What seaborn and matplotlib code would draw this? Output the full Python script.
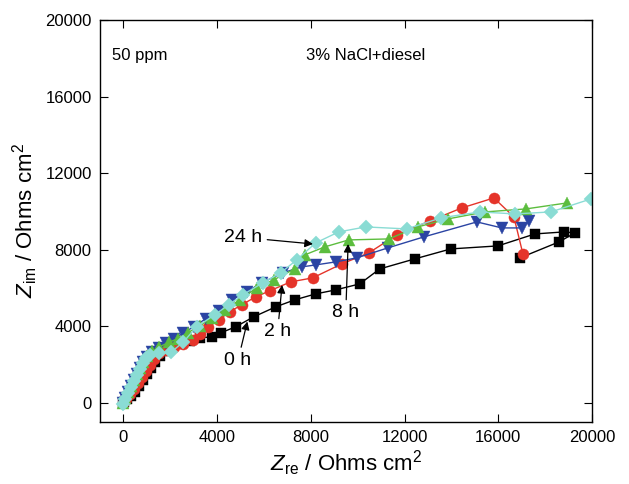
import matplotlib
matplotlib.use("Agg")
import matplotlib.pyplot as plt
import seaborn as sns
import pandas as pd

# 0 h
x0 = [0, 43, 171, 342, 513, 684, 855, 1026, 1197, 1368, 1581, 1795, 2051, 2393, 2821, 3248,
      3761, 4145, 4786, 5556, 6496, 7308, 8205, 9060, 10085, 10940, 12436, 13974, 15983,
      17564, 18803, 19273, 18590, 16923]
y0 = [0, 52, 209, 366, 574, 888, 1201, 1514, 1828, 2141, 2454, 2715, 2924, 3081, 3238, 3394,
      3447, 3655, 3969, 4491, 5013, 5379, 5692, 5901, 6214, 6997, 7520, 8042, 8199,
      8825, 8930, 8877, 8407, 7572]
# 2 h
x2 = [0, 128, 299, 470, 641, 812, 983, 1154, 1325, 1538, 1838, 2179, 2564, 2949, 3248, 3590,
      4060, 4530, 5043, 5641, 6239, 7137, 8077, 9316, 10470, 11667, 13077, 14444, 15812,
      16667, 17051]
y2 = [0, 209, 470, 731, 1044, 1358, 1671, 1984, 2298, 2611, 2768, 2924, 3081, 3290, 3603, 3969,
      4334, 4752, 5118, 5535, 5849, 6319, 6528, 7259, 7833, 8773, 9504, 10183, 10705,
      9713, 7781]
# blue (unlabelled)
xb = [0, 85, 214, 342, 470, 598, 726, 855, 1026, 1239, 1538, 1838, 2179, 2564, 2991, 3504,
      4060, 4615, 5256, 5897, 6795, 7607, 8205, 9060, 9957, 11282, 12821, 15085, 16154,
      17009, 17308]
yb = [0, 261, 574, 888, 1201, 1514, 1828, 2141, 2402, 2663, 2872, 3133, 3342, 3655, 3969, 4386,
      4804, 5379, 5797, 6266, 6789, 7102, 7206, 7363, 7572, 8094, 8669, 9452, 9138,
      9138, 9504]
# 8 h
x8 = [0, 85, 214, 342, 470, 598, 726, 855, 1026, 1239, 1538, 1966, 2308, 2735, 3248, 3761,
      4316, 4957, 5684, 6410, 7308, 7735, 8590, 9615, 11325, 12564, 13846, 15427, 17179, 18932]
y8 = [0, 261, 574, 888, 1201, 1514, 1828, 2141, 2454, 2715, 2924, 3185, 3342, 3655, 4021, 4439,
      4856, 5379, 6005, 6423, 6997, 7728, 8146, 8512, 8564, 9191, 9608, 9974, 10131, 10444]
# 24 h
x24 = [0, 85, 214, 342, 470, 598, 726, 855, 983, 1154, 1538, 2051, 2564, 3120, 3889, 4487,
       5085, 5940, 6709, 7393, 8205, 9188, 10342, 12094, 13547, 15214, 16709, 18248, 19957]
y24 = [-50, 209, 522, 836, 1149, 1462, 1776, 2089, 2350, 2507, 2611, 2663, 3185, 3969, 4595, 5118,
       5640, 6266, 6789, 7468, 8355, 8930, 9191, 9086, 9661, 9974, 9870, 9974, 10653]

ticks = [0, 4000, 8000, 12000, 16000, 20000]
tick_labels = ["0", "4000", "8000", "12000", "16000", "20000"]

series = [
    ("0 h", x0, y0, "s", "#000000", 7),
    ("2 h", x2, y2, "o", "#e5342a", 8),
    ("blue", xb, yb, "v", "#2b44a3", 8.5),
    ("8 h", x8, y8, "^", "#5cbd3e", 8.5),
    ("24 h", x24, y24, "D", "#8adcd4", 7.2),
]

sns.set_style("ticks")
plt.rcParams['font.family'] = ['Liberation Sans', 'DejaVu Sans']
plt.rcParams['mathtext.fontset'] = 'custom'
plt.rcParams['mathtext.rm'] = 'Liberation Sans'
plt.rcParams['mathtext.it'] = 'Liberation Sans:italic'
plt.rcParams['xtick.direction'] = 'in'
plt.rcParams['ytick.direction'] = 'in'
plt.rcParams['text.color'] = 'black'
plt.rcParams['axes.labelcolor'] = 'black'
plt.rcParams['xtick.color'] = 'black'
plt.rcParams['ytick.color'] = 'black'
plt.rcParams['axes.edgecolor'] = 'black'

fig = plt.figure(figsize=(6.29, 4.84), dpi=100)
ax = fig.add_axes([100/629, 1-422/484, 492/629, 402/484])

for name, xs, ys, mk, col, ms in series:
    df = pd.DataFrame({"x": xs, "y": ys})
    sns.lineplot(data=df, x="x", y="y", sort=False, estimator=None, ax=ax,
                 color=col, marker=mk, markersize=ms, markeredgewidth=0.3,
                 markeredgecolor=col, linewidth=1.0)

ax.set_xlim(-1000, 20000)
ax.set_ylim(-1000, 20000)
ax.set_xticks(ticks)
ax.set_xticklabels(tick_labels)
ax.set_yticks(ticks)
ax.set_yticklabels(tick_labels)
ax.tick_params(direction="in", top=True, right=True, labelsize=12, length=6, width=0.8,
               pad=6, colors="black")
for s in ax.spines.values():
    s.set_linewidth(1.0)
    s.set_color("black")

ax.set_xlabel(r"$\mathit{Z}_{\mathrm{re}}$ / Ohms cm$^{2}$", fontsize=16, labelpad=2, color="black")
ax.set_ylabel(r"$\mathit{Z}_{\mathrm{im}}$ / Ohms cm$^{2}$", fontsize=16, labelpad=4, color="black")

ax.text(-500, 18150, "50 ppm", fontsize=12, va="center", ha="left", color="black")
ax.text(7780, 18150, "3% NaCl+diesel", fontsize=12, va="center", ha="left", color="black")

arrow = dict(arrowstyle="-|>", color="black", lw=0.9, mutation_scale=12, shrinkA=1, shrinkB=0)
ax.annotate("24 h", xy=(8090, 8300), xytext=(5940, 8640), fontsize=14, color="black",
            ha="right", va="center", arrowprops=arrow)
ax.annotate("8 h", xy=(9590, 8300), xytext=(9490, 4700), fontsize=14, color="black",
            ha="center", va="center", arrowprops=arrow)
ax.annotate("2 h", xy=(6770, 6160), xytext=(6580, 3710), fontsize=14, color="black",
            ha="center", va="center", arrowprops=arrow)
ax.annotate("0 h", xy=(5290, 4250), xytext=(4890, 2220), fontsize=14, color="black",
            ha="center", va="center", arrowprops=arrow)

fig.savefig("out.png", dpi=100)
